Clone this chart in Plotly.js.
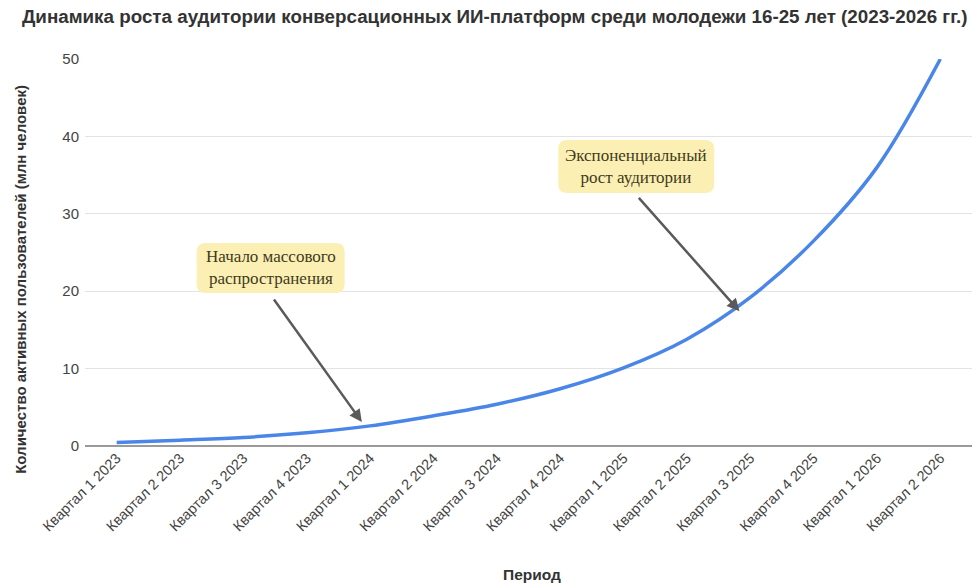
<!DOCTYPE html>
<html>
<head>
<meta charset="utf-8">
<script src="https://cdn.plot.ly/plotly-3.0.1.min.js"></script>
<style>html,body{margin:0;padding:0;background:#fff;}#chart{width:974px;height:583px;}</style>
</head>
<body>
<div id="chart"></div>
<script>
// Data
const categories = ["Квартал 1 2023","Квартал 2 2023","Квартал 3 2023","Квартал 4 2023",
  "Квартал 1 2024","Квартал 2 2024","Квартал 3 2024","Квартал 4 2024",
  "Квартал 1 2025","Квартал 2 2025","Квартал 3 2025","Квартал 4 2025",
  "Квартал 1 2026","Квартал 2 2026"];
const users = [0.45, 0.75, 1.1, 1.7, 2.6, 3.9, 5.4, 7.4, 10.1, 13.8, 19.2, 26.5, 36, 50];
const yTicks = [0, 10, 20, 30, 40, 50];

const titleText = "Динамика роста аудитории конверсационных ИИ-платформ среди молодежи 16-25 лет (2023-2026 гг.)";
const yTitle = "Количество активных пользователей (млн человек)";
const xTitle = "Период";
const note1 = "Начало массового<br>распространения";
const note2 = "Экспоненциальный<br>рост аудитории";

const trace = {
  x: categories,
  y: users,
  type: 'scatter',
  mode: 'lines',
  line: {color: '#4a86e8', width: 3.5, shape: 'spline', smoothing: 1},
  cliponaxis: false,
  hoverinfo: 'skip'
};

function roundRect(w, h, r) {
  const x0 = -w / 2, x1 = w / 2, y0 = -h / 2, y1 = h / 2;
  return `M ${x0 + r} ${y0} L ${x1 - r} ${y0} Q ${x1} ${y0} ${x1} ${y0 + r} L ${x1} ${y1 - r} Q ${x1} ${y1} ${x1 - r} ${y1} ` +
         `L ${x0 + r} ${y1} Q ${x0} ${y1} ${x0} ${y1 - r} L ${x0} ${y0 + r} Q ${x0} ${y0} ${x0 + r} ${y0} Z`;
}
function boxShape(xa, ya, w, h) {
  return {type: 'path', xref: 'x', yref: 'y', xsizemode: 'pixel', ysizemode: 'pixel',
          xanchor: xa, yanchor: ya, path: roundRect(w, h, 9),
          fillcolor: '#fcefb3', line: {width: 0}, layer: 'above'};
}

const boxFont = {family: 'Liberation Serif, Times New Roman, serif', size: 17, color: '#3e3b1c'};
const boxStyle = {showarrow: false, font: boxFont, align: 'center'};
const arrowStyle = {text: '', showarrow: true, arrowhead: 2, arrowsize: 1, arrowwidth: 2.5, arrowcolor: '#5a5a5a', axref: 'pixel', ayref: 'pixel'};

const layout = {
  width: 974, height: 583,
  margin: {l: 85, r: 2, t: 59, b: 137},
  paper_bgcolor: '#ffffff', plot_bgcolor: '#ffffff',
  showlegend: false,
  font: {family: 'Liberation Sans, Arial, sans-serif', color: '#444'},
  title: {text: '<b>' + titleText + '</b>', x: 0.508, xanchor: 'center', y: 0.972, yanchor: 'middle',
          font: {family: 'Liberation Sans, Arial, sans-serif', size: 18.8, color: '#333'}},
  xaxis: {
    type: 'category', range: [-0.5, 13.5],
    tickangle: -45, tickfont: {size: 14.5, color: '#444'},
    showgrid: false, showline: false, ticks: '', zeroline: false
  },
  yaxis: {
    range: [0, 50], tickvals: yTicks, ticktext: yTicks.map(String),
    tickfont: {size: 15, color: '#444'},
    showgrid: true, gridcolor: '#e3e3e3', gridwidth: 1,
    zeroline: true, zerolinecolor: '#9a9a9a', zerolinewidth: 2,
    showline: false, ticks: '', ticklabelstandoff: 5
  },
  shapes: [
    boxShape(2.43, 23.0, 148, 50),
    boxShape(8.2, 36.1, 156, 53)
  ],
  annotations: [
    {text: '<b>' + yTitle + '</b>', xref: 'paper', yref: 'paper', x: -0.073, y: 0.43,
     textangle: -90, showarrow: false, xanchor: 'center', yanchor: 'middle',
     font: {size: 15, color: '#333'}},
    {text: '<b>' + xTitle + '</b>', xref: 'paper', yref: 'paper', x: 0.504, y: -0.333,
     showarrow: false, xanchor: 'center', yanchor: 'middle',
     font: {size: 15.5, color: '#333'}},
    Object.assign({}, boxStyle, {text: note1, x: 2.43, y: 23.0, xref: 'x', yref: 'y'}),
    Object.assign({}, boxStyle, {text: note2, x: 8.2, y: 36.1, xref: 'x', yref: 'y'}),
    Object.assign({}, arrowStyle, {x: 3.87, y: 3.1, xref: 'x', yref: 'y', ax: -89, ay: -124}),
    Object.assign({}, arrowStyle, {x: 9.83, y: 17.4, xref: 'x', yref: 'y', ax: -102, ay: -115})
  ]
};

Plotly.newPlot('chart', [trace], layout, {displayModeBar: false, staticPlot: true});
</script>
</body>
</html>
